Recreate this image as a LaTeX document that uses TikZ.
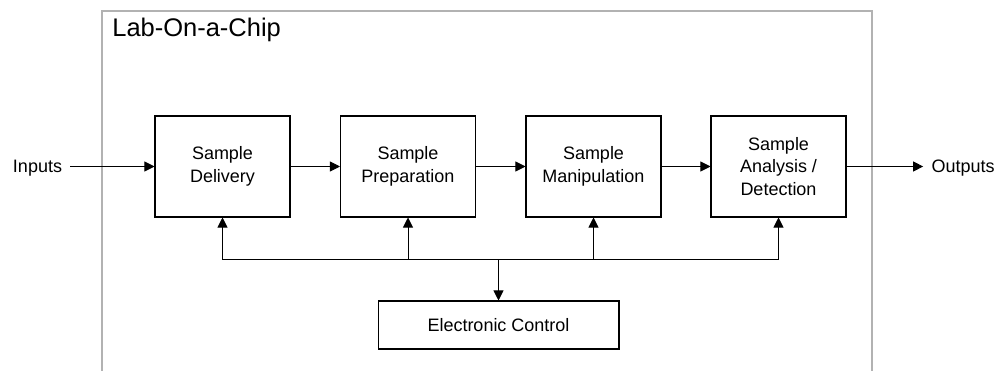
\documentclass[tikz,border=0pt]{standalone}
\usepackage{fontspec}
\setmainfont{Liberation Sans}
\usetikzlibrary{arrows.meta}

\begin{document}
\begin{tikzpicture}[x=0.02cm,y=-0.02cm,
    every node/.style={font=\fontsize{10.24}{12.8}\selectfont,align=center},
    block/.style={draw,line width=0.6pt,minimum width=2.7cm,minimum height=2.02cm,inner sep=0},
    link/.style={line width=0.5pt,-{Triangle[length=0.2cm,width=0.2cm]}}]
  \useasboundingbox (0,0) rectangle (1007,371);
  % chip frame, open at the bottom
  \draw[gray!60,line width=0.6pt] (102,371) -- (102,11) -- (872,11) -- (872,371);
  \node[anchor=base west,font=\fontsize{14.5}{17}\selectfont,inner sep=0] (title) at (112,37) {Lab-On-a-Chip};

  \node[inner xsep=0.16cm] (inputs) at (37.5,168) {Inputs};
  \node[block] (deliv) at (222.5,166.5) {Sample\\Delivery};
  \node[block] (prep) at (408,166.5) {Sample\\Preparation};
  \node[block] (manip) at (593.5,166.5) {Sample\\Manipulation};
  \node[block] (detect) at (778.5,166.5) {Sample\\Analysis /\\Detection};
  \node[inner xsep=0.16cm] (outputs) at (963,168) {Outputs};
  \node[draw,line width=0.6pt,minimum width=4.82cm,minimum height=0.96cm] (ctrl) at (498.5,325) {Electronic Control};
  \coordinate (bus) at (498.5,259);

  \draw[link] (inputs.east |- deliv) -- (deliv);
  \draw[link] (deliv) -- (prep);
  \draw[link] (prep) -- (manip);
  \draw[link] (manip) -- (detect);
  \draw[link] (detect) -- (outputs.west |- detect);
  % control bus
  \draw[link] (bus) -- (ctrl);
  \draw[link] (bus) -| (deliv.south);
  \draw[link] (bus) -| (prep.south);
  \draw[link] (bus) -| (manip.south);
  \draw[link] (bus) -| (detect.south);
\end{tikzpicture}
\end{document}
